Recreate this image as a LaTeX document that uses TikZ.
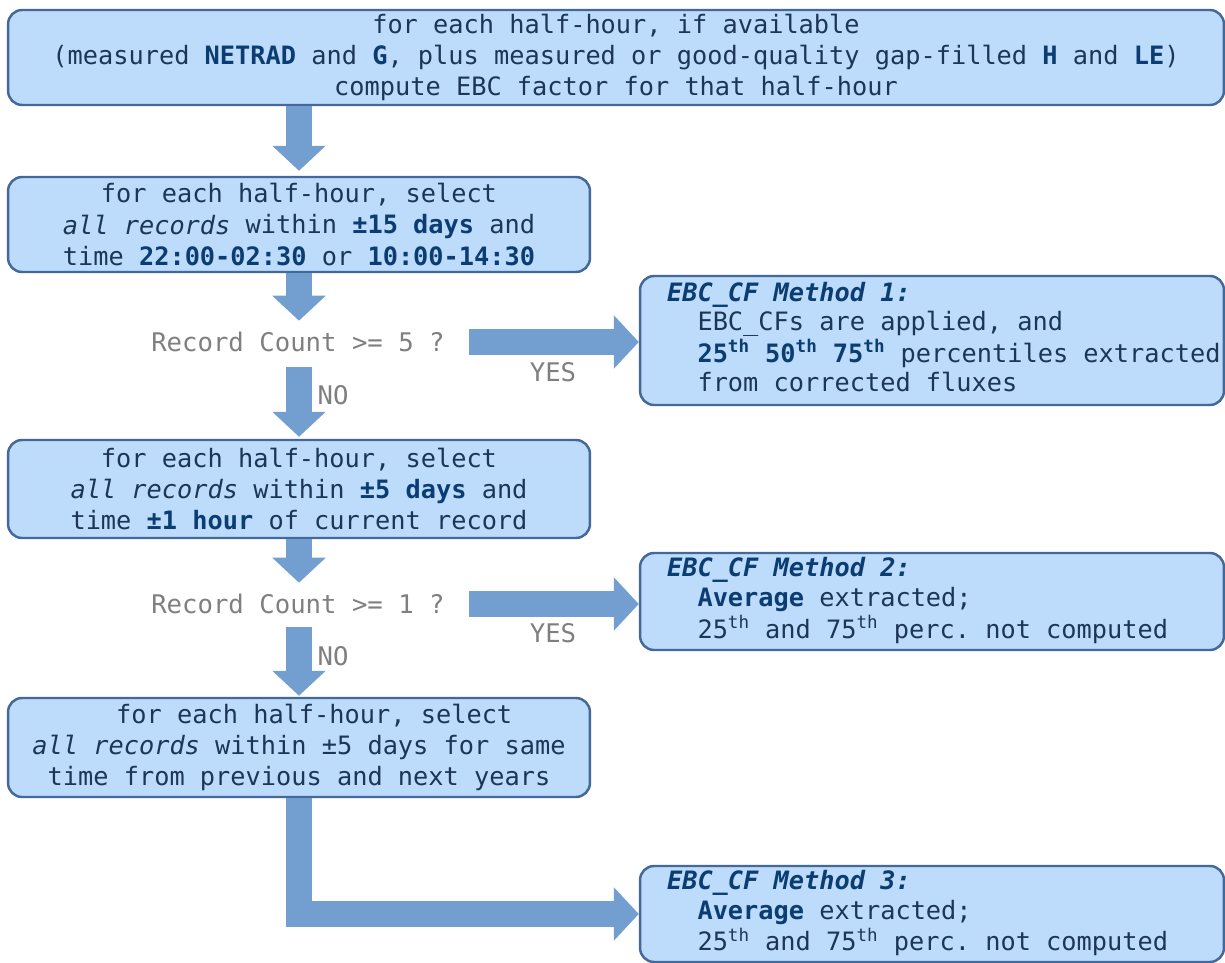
\documentclass[tikz,border=0pt]{standalone}
\usepackage{fontspec}
\setmonofont{DejaVu Sans Mono}
\usetikzlibrary{arrows.meta}
\definecolor{boxfill}{HTML}{BDDCFC}
\definecolor{boxline}{HTML}{45689A}
\definecolor{txtnavy}{HTML}{1C3658}
\definecolor{kwblue}{HTML}{0B3D72}
\definecolor{flowblue}{HTML}{729FCF}
\definecolor{askgray}{HTML}{7F7F7F}
\newcommand{\kw}[1]{\textbf{\color{kwblue}#1}}
\newcommand{\supth}{\textsuperscript{th}}
\newcommand{\mtitle}[1]{\textbf{\textit{\color{kwblue}#1}}}
\renewcommand{\arraystretch}{0.95}
\tikzset{
  box/.style = {draw = boxline, line width = 1.4pt, fill = boxfill, rounded corners = 0.28cm,
                text = txtnavy, font = \ttfamily\fontsize{14.4}{17.8}\selectfont, inner ysep = 0pt},
  wide/.style = {text width = 24cm, inner xsep = 0.16cm, align = flush center, minimum height = 1.9cm},
  half/.style = {text width = 11.3cm, inner xsep = 0.17cm, align = flush center},
  method/.style = {text width = 10.6cm, inner xsep = 0.54cm, align = flush left},
  ask/.style = {text = askgray, font = \ttfamily\fontsize{14.6}{17.8}\selectfont, inner sep = 0pt},
  flow/.style = {draw = flowblue, line width = 0.52cm, -{Triangle[width = 1.04cm, length = 0.5cm]}}
}
\begin{document}
\begin{tikzpicture}[x = 0.02cm, y = -0.02cm]
    \useasboundingbox (0,0) rectangle (1225,963);
    % left column
    \node[box, wide] (avail) at (616,57.5) {for each half-hour, if available\\
        (measured \kw{NETRAD} and \kw{G}, plus measured or good-quality gap-filled \kw{H} and \kw{LE})\\
        compute EBC factor for that half-hour};
    \node[box, half, minimum height = 1.9cm] (sel15) at (299,224.5) {for each half-hour, select\\
        \textit{all records} within \kw{±15 days} and\\
        time \kw{22:00-02:30} or \kw{10:00-14:30}};
    \node[ask] (count5) at (298,342) {Record Count >= 5 ?};
    \node[box, half, minimum height = 1.96cm] (sel5) at (299,489) {for each half-hour, select\\
        \textit{all records} within \kw{±5 days} and\\
        time \kw{±1 hour} of current record};
    \node[ask] (count1) at (298,604) {Record Count >= 1 ?};
    \node[box, half, minimum height = 1.98cm] (years) at (299,747.5) {\hphantom{xx}for each half-hour, select\\
        \textit{all records} within ±5 days for same\\
        time from previous and next years};

    % methods on the right
    \node[box, method, minimum height = 2.58cm] (m1) at (932,340.5) {\begin{tabular}{@{}l@{}}
        \mtitle{EBC\_CF Method 1:}\\
        \hphantom{xx}EBC\_CFs are applied, and\\
        \hphantom{xx}\kw{25\supth{} 50\supth{} 75\supth} percentiles extracted\\
        \hphantom{xx}from corrected fluxes\end{tabular}};
    \node[box, method, minimum height = 1.94cm] (m2) at (932,601.5) {\begin{tabular}{@{}l@{}}
        \mtitle{EBC\_CF Method 2:}\\
        \hphantom{xx}\kw{Average} extracted;\\
        \hphantom{xx}25\supth{} and 75\supth{} perc. not computed\end{tabular}};
    \node[box, method, minimum height = 1.92cm] (m3) at (932,914) {\begin{tabular}{@{}l@{}}
        \mtitle{EBC\_CF Method 3:}\\
        \hphantom{xx}\kw{Average} extracted;\\
        \hphantom{xx}25\supth{} and 75\supth{} perc. not computed\end{tabular}};

    % arrows
    \draw[flow, shorten > = 0.1cm] (sel15.north |- avail.south) -- (sel15.north);
    \draw[flow, shorten > = 0.22cm] (sel15.south) -- (count5.north -| sel15.south);
    \draw[flow, shorten < = 0.3cm, shorten > = 0.04cm] (count5.south -| sel15.south) -- (sel5.north);
    \draw[flow, shorten < = 0.48cm] (count5.east) -- (count5.east -| m1.west);
    \draw[flow, shorten > = 0.22cm] (sel5.south) -- (count1.north -| sel5.south);
    \draw[flow, shorten < = 0.26cm, shorten > = 0.02cm] (count1.south -| sel5.south) -- (years.north);
    \draw[flow, shorten < = 0.48cm] (count1.east) -- (count1.east -| m2.west);
    \draw[flow, line join = miter] (years.south) |- (m3.west);

    % branch labels
    \node[ask] (yes5) at (553,372) {YES};
    \node[ask] (no5) at (333,395) {NO};
    \node[ask] (yes1) at (553,633) {YES};
    \node[ask] (no1) at (333,656) {NO};
\end{tikzpicture}
\end{document}
